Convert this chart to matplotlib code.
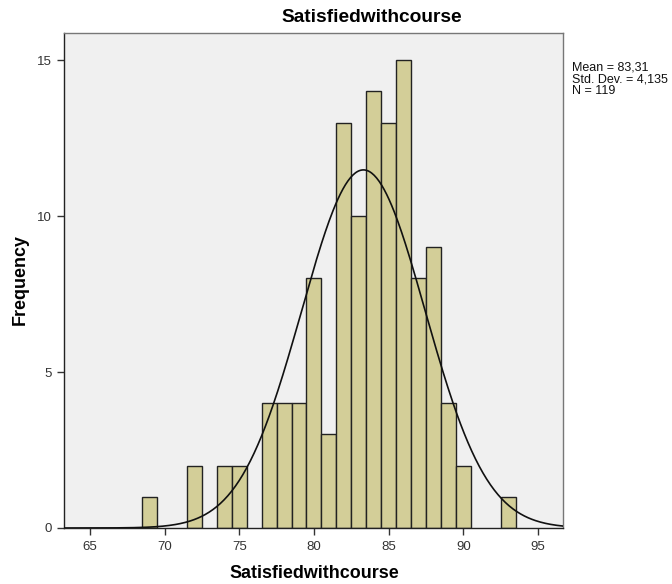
import numpy as np
import matplotlib
matplotlib.use("Agg")
import matplotlib.pyplot as plt

plt.rcParams['font.family'] = ['Liberation Sans', 'DejaVu Sans']

# Data (bin centres, counts)
values = [69, 72, 74, 75, 77, 78, 79, 80, 81, 82, 83, 84, 85, 86, 87, 88, 89, 90, 93]
counts = [1, 2, 2, 2, 4, 4, 4, 8, 3, 13, 10, 14, 13, 15, 8, 9, 4, 2, 1]
mean = 83.31
sd = 4.135
n = 119
bin_width = 1.0
xticks = [65, 70, 75, 80, 85, 90, 95]
yticks = [0, 5, 10, 15]

W, H = 672, 584
fig = plt.figure(figsize=(W / 100, H / 100), dpi=100)
left, right, top, bottom = 64, 563, 33, 528
ax = fig.add_axes([left / W, 1 - bottom / H, (right - left) / W, (bottom - top) / H])
ax.set_facecolor('#F0F0F0')

ax.bar(values, counts, width=bin_width, color='#D3CE98', edgecolor='#222222', linewidth=1.0, zorder=2)

xs = np.linspace(63.27, 96.67, 400)
ys = n * bin_width / (sd * np.sqrt(2 * np.pi)) * np.exp(-0.5 * ((xs - mean) / sd) ** 2)
ax.plot(xs, ys, color='#111111', linewidth=1.2, zorder=3)

ax.set_xlim(63.27, 96.67)
ax.set_ylim(0, 15.87)
ax.set_xticks(xticks)
ax.set_yticks(yticks)
ax.tick_params(axis='both', direction='out', length=5, width=1, colors='#333333', labelsize=9.5,
               labelcolor='#333333', pad=4)
for side in ['left', 'bottom']:
    ax.spines[side].set_color('#222222')
    ax.spines[side].set_linewidth(1.0)
for side in ['top', 'right']:
    ax.spines[side].set_color('#777777')
    ax.spines[side].set_linewidth(1.0)

fig.text(314 / W, 1 - 574 / H, 'Satisfiedwithcourse', fontsize=12.9, fontweight='bold',
         ha='center', va='center')
fig.text(20 / W, 1 - 280 / H, 'Frequency', fontsize=12.9, fontweight='bold',
         ha='center', va='center', rotation=90)

fig.text(372 / W, 1 - 18 / H, 'Satisfiedwithcourse', fontsize=13.8, fontweight='bold',
         ha='center', va='center')
fig.text(572 / W, 1 - 61 / H, 'Mean = 83,31\nStd. Dev. = 4,135\nN = 119', fontsize=9,
         ha='left', va='top', linespacing=1.0, color='#111111')

fig.savefig('out.png', dpi=100)
